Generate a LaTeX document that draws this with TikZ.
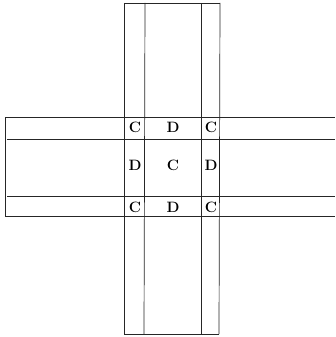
\documentclass[tikz,border=0pt]{standalone}
\begin{document}
\begin{tikzpicture}[x=1pt,y=-1pt,
  rule/.style={line width=0.7pt,draw=black!85},
  lab/.style={font=\fontsize{15}{15}\selectfont\bfseries,inner sep=0pt,anchor=center}]
\useasboundingbox (0,0) rectangle (335,337);
% vertical strip
\draw[rule] (124,3) -- (220,3);
\draw[rule] (124,334) -- (219,334);
\draw[rule] (124,3) -- (124,334);
\draw[rule] (145,3) -- (144,334);
\draw[rule] (201,3) -- (201,334);
\draw[rule] (220,3) -- (219,334);
% horizontal strip
\draw[rule] (5,117) -- (5,217);
\draw[rule] (5,117) -- (335,117);
\draw[rule] (7,139) -- (335,139);
\draw[rule] (7,196) -- (335,196);
\draw[rule] (5,216) -- (335,216);
% letters
\node[lab] (c1) at (135,127.5) {C};
\node[lab] (d1) at (173,127.5) {D};
\node[lab] (c2) at (211,127.5) {C};
\node[lab] (d2) at (135,165) {D};
\node[lab] (c3) at (173,165) {C};
\node[lab] (d3) at (211,165) {D};
\node[lab] (c4) at (135,207) {C};
\node[lab] (d4) at (173,207) {D};
\node[lab] (c5) at (211,207) {C};
\end{tikzpicture}
\end{document}
